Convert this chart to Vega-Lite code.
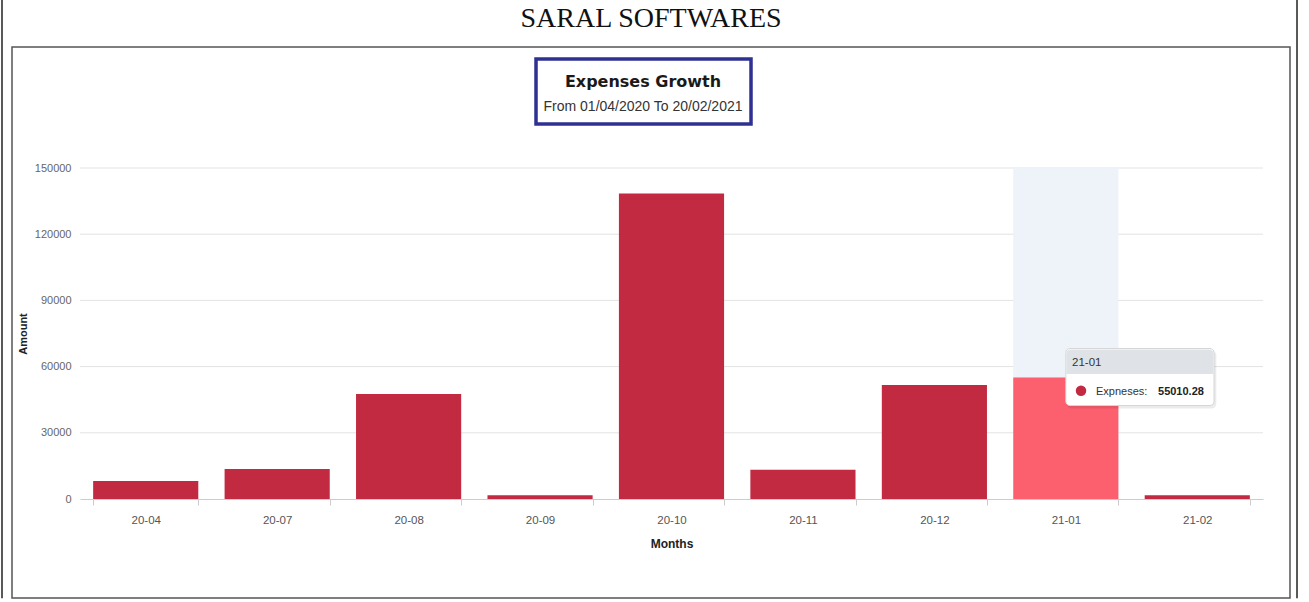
{
  "$schema": "https://vega.github.io/schema/vega-lite/v6.json",
  "width": 1278,
  "height": 551,
  "autosize": {"type": "none"},
  "padding": {"left": 12, "top": 47, "right": 19, "bottom": 4},
  "background": "white",
  "title": {"text": "SARAL SOFTWARES", "font": "Liberation Serif", "fontSize": 28, "fontWeight": "normal", "color": "#111111", "anchor": "middle", "frame": "group", "baseline": "alphabetic", "offset": -56},
  "config": {"font": "Liberation Sans", "view": {"stroke": "#555555", "strokeWidth": 1.5}},
  "datasets": {
    "expenses": [
      {"month": "20-04", "amount": 8200},
      {"month": "20-07", "amount": 13600},
      {"month": "20-08", "amount": 47600},
      {"month": "20-09", "amount": 1700},
      {"month": "20-10", "amount": 138500},
      {"month": "20-11", "amount": 13200},
      {"month": "20-12", "amount": 51700},
      {"month": "21-01", "amount": 55010.28},
      {"month": "21-02", "amount": 1700}
    ],
    "gridlines": [{"v": 30000}, {"v": 60000}, {"v": 90000}, {"v": 120000}, {"v": 150000}]
  },
  "resolve": {"scale": {"x": "independent"}, "axis": {"x": "independent", "y": "independent"}},
  "layer": [
    {
      "data": {"name": "gridlines"},
      "mark": {"type": "rule", "color": "#e3e3e3", "strokeWidth": 1},
      "encoding": {
        "x": {"datum": 0, "type": "quantitative", "scale": {"type": "linear", "domain": [0, 9], "range": [68, 1251], "nice": false, "zero": false}, "axis": null},
        "x2": {"datum": 9},
        "y": {"field": "v", "type": "quantitative", "scale": {"domain": [0, 150000], "range": [452, 121], "nice": false, "zero": false}, "axis": null}
      }
    },
    {
      "data": {"name": "expenses"},
      "transform": [{"filter": "datum.month === '21-01'"}],
      "mark": {"type": "bar", "color": "#eef3fa"},
      "encoding": {
        "x": {"field": "month", "type": "nominal", "sort": null, "scale": {"domain": ["20-04", "20-07", "20-08", "20-09", "20-10", "20-11", "20-12", "21-01", "21-02"], "range": [68, 1251], "paddingInner": 0.2, "paddingOuter": 0.1}, "axis": null},
        "y": {"datum": 150000, "type": "quantitative", "scale": {"domain": [0, 150000], "range": [452, 121], "nice": false, "zero": false}, "axis": null},
        "y2": {"datum": 0}
      }
    },
    {
      "data": {"name": "expenses"},
      "mark": {"type": "bar"},
      "encoding": {
        "x": {"field": "month", "type": "nominal", "sort": null,
          "scale": {"domain": ["20-04", "20-07", "20-08", "20-09", "20-10", "20-11", "20-12", "21-01", "21-02"], "range": [68, 1251], "paddingInner": 0.2, "paddingOuter": 0.1},
          "axis": {"title": "Months", "offset": -99, "labelAngle": 0, "labelColor": "#555555", "labelFontSize": 11.5, "labelPadding": 9, "tickSize": 6, "tickColor": "#cccccc", "domainColor": "#cccccc", "tickBand": "extent", "grid": false, "titleFontSize": 12, "titleFontWeight": "bold", "titleColor": "#222222", "titlePadding": 13}},
        "y": {"field": "amount", "type": "quantitative",
          "scale": {"domain": [0, 150000], "range": [452, 121], "nice": false, "zero": false},
          "axis": {"title": "Amount", "offset": -68, "values": [0, 30000, 60000, 90000, 120000, 150000], "format": "d", "domain": false, "ticks": false, "grid": false, "labelColor": "#666666", "labelFontSize": 11, "labelPadding": 9, "titleFontSize": 11, "titleFontWeight": "bold", "titleColor": "#222222", "titlePadding": 6}},
        "color": {"condition": {"test": "datum.month === '21-01'", "value": "#fc5f6e"}, "value": "#c12a40"}
      }
    },
    {
      "data": {"values": [{}]},
      "mark": {"type": "rect", "filled": false, "stroke": "#2e3192", "strokeWidth": 3.5},
      "encoding": {
        "x": {"datum": 3.4692, "type": "quantitative", "scale": {"type": "linear", "domain": [0, 9], "range": [68, 1251], "nice": false, "zero": false}, "axis": null},
        "x2": {"datum": 5.1049},
        "y": {"datum": 199396, "type": "quantitative", "scale": {"domain": [0, 150000], "range": [452, 121], "nice": false, "zero": false}, "axis": null},
        "y2": {"datum": 169940}
      }
    },
    {
      "data": {"values": [{}]},
      "mark": {"type": "text", "font": "DejaVu Sans", "fontWeight": "bold", "fontSize": 16, "color": "#1a1a1a", "align": "center", "baseline": "alphabetic"},
      "encoding": {
        "x": {"datum": 4.2832, "type": "quantitative", "scale": {"type": "linear", "domain": [0, 9], "range": [68, 1251], "nice": false, "zero": false}, "axis": null},
        "y": {"datum": 186571, "type": "quantitative", "scale": {"domain": [0, 150000], "range": [452, 121], "nice": false, "zero": false}, "axis": null},
        "text": {"value": "Expenses Growth"}
      }
    },
    {
      "data": {"values": [{}]},
      "mark": {"type": "text", "fontSize": 14, "color": "#333333", "align": "center", "baseline": "alphabetic"},
      "encoding": {
        "x": {"datum": 4.2832, "type": "quantitative", "scale": {"type": "linear", "domain": [0, 9], "range": [68, 1251], "nice": false, "zero": false}, "axis": null},
        "y": {"datum": 175831, "type": "quantitative", "scale": {"domain": [0, 150000], "range": [452, 121], "nice": false, "zero": false}, "axis": null},
        "text": {"value": "From 01/04/2020 To 20/02/2021"}
      }
    },
    {
      "data": {"values": [{}]},
      "mark": {"type": "rect", "color": "#000000", "opacity": 0.08, "cornerRadius": 5},
      "encoding": {
        "x": {"datum": 7.505, "type": "quantitative", "scale": {"type": "linear", "domain": [0, 9], "range": [68, 1251], "nice": false, "zero": false}, "axis": null},
        "x2": {"datum": 8.645},
        "y": {"datum": 67300, "type": "quantitative", "scale": {"domain": [0, 150000], "range": [452, 121], "nice": false, "zero": false}, "axis": null},
        "y2": {"datum": 41000}
      }
    },
    {
      "data": {"values": [{}]},
      "mark": {"type": "rect", "fill": "#ffffff", "stroke": "#d6d6d6", "strokeWidth": 1, "cornerRadius": 4},
      "encoding": {
        "x": {"datum": 7.5, "type": "quantitative", "scale": {"type": "linear", "domain": [0, 9], "range": [68, 1251], "nice": false, "zero": false}, "axis": null},
        "x2": {"datum": 8.6273},
        "y": {"datum": 68202, "type": "quantitative", "scale": {"domain": [0, 150000], "range": [452, 121], "nice": false, "zero": false}, "axis": null},
        "y2": {"datum": 42372}
      }
    },
    {
      "data": {"values": [{}]},
      "mark": {"type": "rect", "fill": "#dfe3e8", "cornerRadiusTopLeft": 4, "cornerRadiusTopRight": 4},
      "encoding": {
        "x": {"datum": 7.5038, "type": "quantitative", "scale": {"type": "linear", "domain": [0, 9], "range": [68, 1251], "nice": false, "zero": false}, "axis": null},
        "x2": {"datum": 8.6235},
        "y": {"datum": 67800, "type": "quantitative", "scale": {"domain": [0, 150000], "range": [452, 121], "nice": false, "zero": false}, "axis": null},
        "y2": {"datum": 56647}
      }
    },
    {
      "data": {"name": "expenses"},
      "transform": [{"filter": "datum.month === '21-01'"}],
      "mark": {"type": "text", "fontSize": 11.5, "color": "#333333", "align": "left", "baseline": "alphabetic"},
      "encoding": {
        "x": {"datum": 7.547, "type": "quantitative", "scale": {"type": "linear", "domain": [0, 9], "range": [68, 1251], "nice": false, "zero": false}, "axis": null},
        "y": {"datum": 60453, "type": "quantitative", "scale": {"domain": [0, 150000], "range": [452, 121], "nice": false, "zero": false}, "axis": null},
        "text": {"field": "month"}
      }
    },
    {
      "data": {"values": [{}]},
      "mark": {"type": "point", "filled": true, "color": "#c12a40", "opacity": 1, "size": 110, "shape": "circle"},
      "encoding": {
        "x": {"datum": 7.6155, "type": "quantitative", "scale": {"type": "linear", "domain": [0, 9], "range": [68, 1251], "nice": false, "zero": false}, "axis": null},
        "y": {"datum": 49078, "type": "quantitative", "scale": {"domain": [0, 150000], "range": [452, 121], "nice": false, "zero": false}, "axis": null}
      }
    },
    {
      "data": {"values": [{}]},
      "mark": {"type": "text", "fontSize": 11, "color": "#333333", "align": "left", "baseline": "alphabetic"},
      "encoding": {
        "x": {"datum": 7.7296, "type": "quantitative", "scale": {"type": "linear", "domain": [0, 9], "range": [68, 1251], "nice": false, "zero": false}, "axis": null},
        "y": {"datum": 47266, "type": "quantitative", "scale": {"domain": [0, 150000], "range": [452, 121], "nice": false, "zero": false}, "axis": null},
        "text": {"value": "Expneses:"}
      }
    },
    {
      "data": {"name": "expenses"},
      "transform": [{"filter": "datum.month === '21-01'"}],
      "mark": {"type": "text", "fontSize": 11, "fontWeight": "bold", "color": "#222222", "align": "left", "baseline": "alphabetic"},
      "encoding": {
        "x": {"datum": 8.2013, "type": "quantitative", "scale": {"type": "linear", "domain": [0, 9], "range": [68, 1251], "nice": false, "zero": false}, "axis": null},
        "y": {"datum": 47266, "type": "quantitative", "scale": {"domain": [0, 150000], "range": [452, 121], "nice": false, "zero": false}, "axis": null},
        "text": {"field": "amount", "format": ".2f"}
      }
    },
    {
      "data": {"values": [{"side": -0.5934}, {"side": 9.2587}]},
      "mark": {"type": "rule", "color": "#222222", "strokeWidth": 1.5},
      "encoding": {
        "x": {"field": "side", "type": "quantitative", "scale": {"type": "linear", "domain": [0, 9], "range": [68, 1251], "nice": false, "zero": false}, "axis": null},
        "y": {"datum": 226133, "type": "quantitative", "scale": {"domain": [0, 150000], "range": [452, 121], "nice": false, "zero": false}, "axis": null},
        "y2": {"datum": -45000}
      }
    }
  ]
}
